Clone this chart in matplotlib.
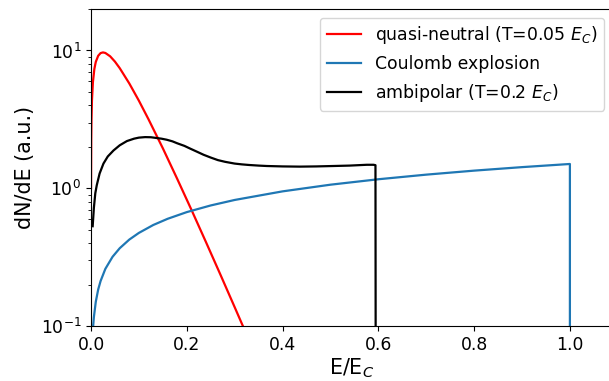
import matplotlib
matplotlib.use("Agg")
import matplotlib.pyplot as plt

# quasi-neutral (T=0.05 E_C)
qn_x = [0.0001, 0.0005, 0.001, 0.002, 0.004, 0.007, 0.01, 0.015, 0.02, 0.025,
        0.03, 0.04, 0.05, 0.06, 0.08, 0.10, 0.12, 0.15, 0.18, 0.21, 0.24, 0.27,
        0.30, 0.33]
qn_y = [1.0, 2.23, 3.13, 4.34, 5.89, 7.34, 8.26, 9.15, 9.57, 9.68,
        9.59, 9.07, 8.30, 7.44, 5.76, 4.32, 3.17, 1.95, 1.17, 0.694, 0.407, 0.237,
        0.137, 0.0789]

# Coulomb explosion
ce_x = [0.002, 0.004, 0.006, 0.01, 0.015, 0.02, 0.03, 0.045, 0.06, 0.08, 0.10,
        0.13, 0.16, 0.20, 0.25, 0.30, 0.40, 0.50, 0.60, 0.70, 0.80, 0.90, 1.0, 1.0]
ce_y = [0.067, 0.095, 0.116, 0.150, 0.184, 0.212, 0.260, 0.318, 0.367, 0.424, 0.474,
        0.541, 0.600, 0.671, 0.750, 0.822, 0.949, 1.061, 1.162, 1.255, 1.342, 1.423, 1.5, 0.001]

# ambipolar (T=0.2 E_C)
am_x = [0.0035, 0.006, 0.009, 0.012, 0.018, 0.026, 0.035, 0.047, 0.06, 0.075, 0.09,
        0.10, 0.113, 0.125, 0.135, 0.147, 0.158, 0.17, 0.18, 0.195, 0.207, 0.22,
        0.235, 0.25, 0.265, 0.28, 0.30, 0.315, 0.33, 0.35, 0.367, 0.40, 0.436,
        0.47, 0.506, 0.54, 0.576, 0.59, 0.594, 0.595]
am_y = [0.53, 0.72, 0.92, 1.05, 1.28, 1.51, 1.70, 1.88, 2.05, 2.20, 2.29,
        2.33, 2.35, 2.345, 2.32, 2.29, 2.25, 2.19, 2.12, 2.03, 1.94, 1.85,
        1.75, 1.67, 1.60, 1.555, 1.51, 1.49, 1.475, 1.46, 1.45, 1.44, 1.435,
        1.44, 1.45, 1.46, 1.48, 1.48, 1.47, 0.001]

base = 12.4
fig = plt.figure(figsize=(6.09, 3.81), dpi=100)
ax = fig.add_axes([91/609, 1 - 326/381, 522/609, 317/381])

ax.plot(qn_x, qn_y, color='red', lw=1.6, label=r'quasi-neutral (T=0.05 $E_C$)')
ax.plot(ce_x, ce_y, color='#1f77b4', lw=1.6, label='Coulomb explosion')
ax.plot(am_x, am_y, color='black', lw=1.6, label=r'ambipolar (T=0.2 $E_C$)')

ax.set_yscale('log')
ax.set_xlim(0, 1.09)
ax.set_ylim(0.1, 20)
ax.set_xticks([0.0, 0.2, 0.4, 0.6, 0.8, 1.0])
ax.tick_params(labelsize=base)
ax.set_xlabel(r'E/E$_C$', fontsize=base * 1.2, labelpad=2)
ax.set_ylabel('dN/dE (a.u.)', fontsize=base * 1.2)
ax.legend(loc='upper right', fontsize=base)

fig.savefig('out.png', dpi=100)
